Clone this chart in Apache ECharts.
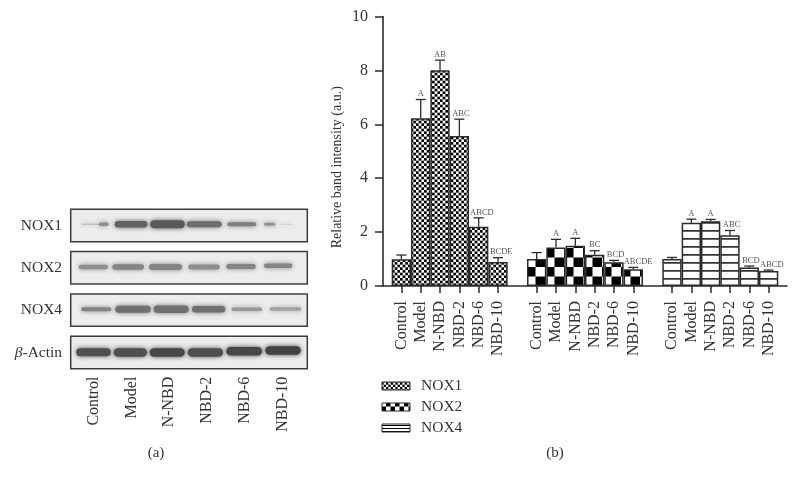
<!DOCTYPE html>
<html>
<head>
<meta charset="utf-8">
<style>html,body{margin:0;padding:0;background:#fff}#c{width:798px;height:487px}</style>
<script src="https://cdn.jsdelivr.net/npm/echarts@6/dist/echarts.min.js"></script>
</head>
<body>
<div id="c"></div>
<script>
// ---- data ----
var groupLabels = ['Control', 'Model', 'N-NBD', 'NBD-2', 'NBD-6', 'NBD-10'];
var seriesNames = ['NOX1', 'NOX2', 'NOX4'];
var nox1Values = [0.99, 6.22, 8.01, 5.57, 2.20, 0.89];
var nox2Values = [1.00, 1.43, 1.49, 1.16, 0.88, 0.62];
var nox4Values = [1.00, 2.35, 2.40, 1.88, 0.69, 0.56];
var nox1ErrTop = [1.15, 6.92, 8.38, 6.19, 2.53, 1.05];
var nox2ErrTop = [1.24, 1.73, 1.77, 1.31, 0.95, 0.69];
var nox4ErrTop = [1.06, 2.48, 2.47, 2.06, 0.74, 0.59];
var nox1Sig = ['', 'A', 'AB', 'ABC', 'ABCD', 'BCDE'];
var nox2Sig = ['', 'A', 'A', 'BC', 'BCD', 'ABCDE'];
var nox4Sig = ['', 'A', 'A', 'ABC', 'BCD', 'ABCD'];
var yTicks = {min: 0, max: 10, interval: 2};
var blotRows = ['NOX1', 'NOX2', 'NOX4', '{i|\u03B2}-Actin'];
// western-blot bands: [start, end, rowPosition, thickness, darkness]
var blotNox1 = [[10.6,27.3,.472,1.5,.25],[28,38,.472,3.5,.5],[44,76.6,.472,6.5,.72],[79.6,114,.472,8,.76],[116,151,.472,6,.66],[156.6,185.6,.472,4,.58],[193.3,204.6,.472,3,.48],[209,222.3,.472,1.2,.14]];
var blotNox2 = [[8,37.3,1.48,4.5,.5],[41.6,73.3,1.48,5.5,.55],[78.3,111.3,1.48,6,.55],[117.6,149,1.48,5,.5],[155.6,185,1.47,5,.55],[193.3,221.6,1.45,4.5,.55]];
var blotNox4 = [[10.6,40.6,2.48,4,.55],[44.6,80,2.48,7,.65],[83,118,2.48,7.5,.65],[121.3,154.6,2.48,6.5,.65],[160.6,191.3,2.48,3.5,.45],[199,230.6,2.47,3.5,.4]];
var blotActin = [[5.6,40,3.496,8,.82],[43,76.3,3.5,8.5,.82],[79,114,3.5,8.5,.86],[117,152.3,3.5,8.5,.82],[155.6,191.3,3.47,8.5,.86],[194.6,230,3.45,8.5,.88]];

// ---- helpers ----
var SERIF = '"Liberation Serif", serif';
var INK = '#2b2b2b';
var TEXT = '#333';

function tile(w, h, draw) {
  var c = document.createElement('canvas');
  c.width = w; c.height = h;
  var g = c.getContext('2d');
  g.fillStyle = '#fff'; g.fillRect(0, 0, w, h);
  g.fillStyle = '#000';
  draw(g);
  return c;
}
function checker(cell, n) {
  return tile(Math.round(cell * n * 2), Math.round(cell * n * 2), function (g) {
    for (var i = 0; i < n * 2; i++) for (var j = 0; j < n * 2; j++)
      if ((i + j) % 2 === 0) g.fillRect(i * cell, j * cell, cell, cell);
  });
}
function hlines(step, th, at) {
  return tile(4, step, function (g) { g.fillRect(0, at, 4, th); });
}
var patNox1 = {image: checker(8 / 3, 3), repeat: 'repeat', x: 392, y: 286};
var patNox2 = {image: checker(9.5, 1), repeat: 'repeat', x: 526, y: 286};
var patNox4 = {image: hlines(8, 1.4, 6.2), repeat: 'repeat'};
var legNox1 = {image: checker(7 / 3, 3), repeat: 'repeat', x: 382, y: 383};
var legNox2 = {image: checker(4.5, 1), repeat: 'repeat', x: 382, y: 404};
var legNox4 = {image: hlines(3, 1, 1), repeat: 'repeat'};

// 20 slots: three groups of six with an empty slot between
var categories = [].concat(groupLabels, [''], groupLabels, [''], groupLabels);
function place(values, group) {
  var out = categories.map(function () { return null; });
  values.forEach(function (v, i) { out[group * 7 + i] = v; });
  return out;
}
function barSeries(name, values, group, pat) {
  return {
    type: 'bar', name: name, xAxisIndex: 0, yAxisIndex: 0,
    data: place(values, group), barWidth: '100%', barGap: '-100%',
    itemStyle: {color: pat, borderColor: INK, borderWidth: 1.5},
    animation: false, silent: true
  };
}
var errData = [];
[[nox1Values, nox1ErrTop, nox1Sig], [nox2Values, nox2ErrTop, nox2Sig], [nox4Values, nox4ErrTop, nox4Sig]].forEach(function (g, gi) {
  g[0].forEach(function (v, i) {
    errData.push([gi * 7 + i, v, g[1][i], g[2][i]]);
  });
});
var bandData = [].concat(blotNox1, blotNox2, blotNox4, blotActin);
var frameData = blotRows.map(function (r, i) { return [i]; });

var option = {
  backgroundColor: '#fff',
  animation: false,
  title: [
    {text: '(a)', left: 151, top: 441, textAlign: 'center', textStyle: {fontFamily: SERIF, fontSize: 15, fontWeight: 'normal', color: TEXT}},
    {text: '(b)', left: 550, top: 441, textAlign: 'center', textStyle: {fontFamily: SERIF, fontSize: 15, fontWeight: 'normal', color: TEXT}}
  ],
  legend: {
    orient: 'vertical', left: 376.5, top: 373,
    itemWidth: 28, itemHeight: 8, itemGap: 5,
    selectedMode: false,
    textStyle: {fontFamily: SERIF, fontSize: 15.5, color: TEXT, padding: [0, 0, 0, 6]},
    data: [
      {name: seriesNames[0], icon: 'rect', itemStyle: {color: legNox1, borderColor: INK, borderWidth: 1}},
      {name: seriesNames[1], icon: 'rect', itemStyle: {color: legNox2, borderColor: INK, borderWidth: 1}},
      {name: seriesNames[2], icon: 'rect', itemStyle: {color: legNox4, borderColor: INK, borderWidth: 1}}
    ]
  },
  grid: [
    {left: 391.7, width: 386.6, top: 16.5, height: 269.5},
    {left: 383, width: 404, top: 16.5, height: 269.5},
    {left: 70.7, width: 236.6, top: 204.33, height: 169.33},
    {left: 74.6, width: 226.8, top: 204.33, height: 169.33}
  ],
  xAxis: [
    {
      type: 'category', gridIndex: 0, data: categories,
      axisLine: {show: false},
      axisTick: {show: true, length: 7, alignWithLabel: true, interval: function (i, v) { return v !== ''; }, lineStyle: {color: INK, width: 1.5}},
      axisLabel: {interval: 0, rotate: 90, margin: 15, fontFamily: SERIF, fontSize: 16, color: TEXT}
    },
    {
      type: 'value', gridIndex: 1, min: 0, max: 1,
      axisLine: {show: true, onZero: false, lineStyle: {color: INK, width: 1.6}},
      axisTick: {show: false}, axisLabel: {show: false}, splitLine: {show: false}
    },
    {type: 'value', gridIndex: 2, min: 0, max: 236.6, show: false},
    {
      type: 'category', gridIndex: 3, data: groupLabels,
      axisLine: {show: false}, axisTick: {show: false},
      axisLabel: {interval: 0, rotate: 90, margin: 3, fontFamily: SERIF, fontSize: 16, color: TEXT}
    }
  ],
  yAxis: [
    {
      type: 'value', gridIndex: 0, min: yTicks.min, max: yTicks.max, interval: yTicks.interval,
      offset: 8.7,
      name: 'Relative band intensity (a.u.)', nameLocation: 'middle', nameGap: 39,
      nameTextStyle: {fontFamily: SERIF, fontSize: 14, color: TEXT, padding: [0, 32, 0, 0]},
      axisLine: {show: true, lineStyle: {color: INK, width: 1.6}},
      axisTick: {show: true, length: 8, lineStyle: {color: INK, width: 1.5}},
      axisLabel: {margin: 15, fontFamily: SERIF, fontSize: 16, color: TEXT},
      splitLine: {show: false}
    },
    {type: 'value', gridIndex: 1, min: 0, max: 1, show: false},
    {type: 'value', gridIndex: 2, min: 0, max: 4, inverse: true, show: false},
    {
      type: 'category', gridIndex: 3, inverse: true, data: blotRows,
      axisLine: {show: false}, axisTick: {show: false},
      axisLabel: {
        margin: 12.5, fontFamily: SERIF, fontSize: 15.5, color: TEXT,
        rich: {i: {fontFamily: SERIF, fontStyle: 'italic', fontSize: 15.5, color: TEXT}}
      }
    }
  ],
  series: [
    barSeries(seriesNames[0], nox1Values, 0, patNox1),
    barSeries(seriesNames[1], nox2Values, 1, patNox2),
    barSeries(seriesNames[2], nox4Values, 2, patNox4),
    {
      type: 'custom', xAxisIndex: 0, yAxisIndex: 0, data: errData, silent: true, z: 5,
      encode: {x: 0, y: 2},
      renderItem: function (params, api) {
        var base = api.coord([api.value(0), api.value(1)]);
        var top = api.coord([api.value(0), api.value(2)]);
        var style = {stroke: INK, lineWidth: 1.3, fill: null};
        var label = errData[params.dataIndex][3];
        var shift = Math.max(0, label.length - 2) * 1.6;
        return {
          type: 'group',
          children: [
            {type: 'line', shape: {x1: top[0], y1: base[1], x2: top[0], y2: top[1]}, style: style},
            {type: 'line', shape: {x1: top[0] - 5, y1: top[1], x2: top[0] + 5, y2: top[1]}, style: style},
            {type: 'text', style: {text: label, x: top[0] + shift, y: top[1] - 1, align: 'center', verticalAlign: 'bottom', fontFamily: SERIF, fontSize: 8.5, fill: '#555'}}
          ]
        };
      }
    },
    {
      type: 'custom', xAxisIndex: 2, yAxisIndex: 2, data: frameData, silent: true, z: 1,
      encode: {y: 0},
      renderItem: function (params, api) {
        var r = api.value(0);
        var a = api.coord([0, r + 0.117]);
        var b = api.coord([236.6, r + 0.883]);
        return {
          type: 'rect',
          shape: {x: a[0], y: a[1], width: b[0] - a[0], height: b[1] - a[1]},
          style: {fill: '#ececec', stroke: '#3c3c3c', lineWidth: 1.5}
        };
      }
    },
    {
      type: 'custom', xAxisIndex: 2, yAxisIndex: 2, data: bandData, silent: true, z: 2,
      encode: {x: [0, 1], y: 2},
      renderItem: function (params, api) {
        var a = api.coord([api.value(0), api.value(2)]);
        var b = api.coord([api.value(1), api.value(2)]);
        var th = api.value(3);
        var g = Math.round(240 * (1 - api.value(4) * 0.82));
        var col = 'rgb(' + g + ',' + g + ',' + g + ')';
        return {
          type: 'rect',
          shape: {x: a[0], y: a[1] - th / 2, width: b[0] - a[0], height: th, r: th / 2},
          style: {fill: col, shadowColor: col, shadowBlur: 5}
        };
      }
    }
  ]
};
var chart = echarts.init(document.getElementById('c'), null, {renderer: 'canvas'});
chart.setOption(option);
</script>
</body>
</html>
